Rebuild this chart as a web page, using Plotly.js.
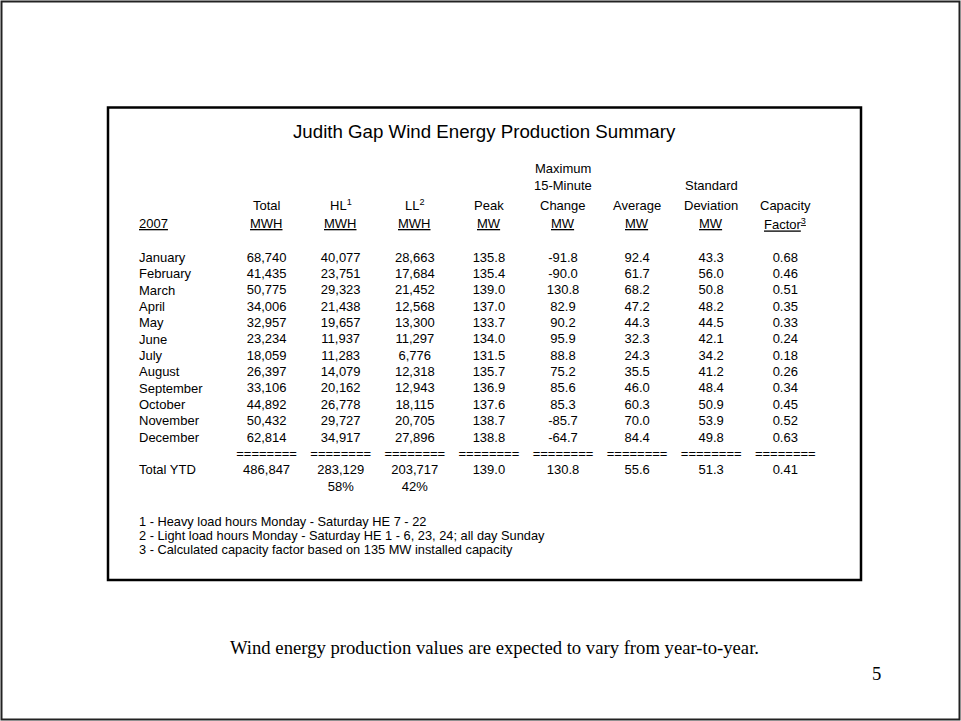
<!DOCTYPE html>
<html>
<head>
<meta charset="utf-8">
<script src="https://cdn.plot.ly/plotly-3.0.1.min.js"></script>
<style>html,body{margin:0;padding:0;background:#fff;}#chart{width:961px;height:721px;}</style>
</head>
<body>
<div id="chart"></div>
<script>
// ---------- data ----------
const titleText = 'Judith Gap Wind Energy Production Summary';
const yearLabel = '2007';
const months = ['January','February','March','April','May','June','July','August','September','October','November','December'];
const columns = ['Total','HL','LL','Peak','Change','Average','StdDev','CF'];
const headerLine1 = ['', '', '', '', 'Maximum', '', '', ''];
const headerLine2 = ['', '', '', '', '15-Minute', '', 'Standard', ''];
const headerLine3 = ['Total', 'HL<sup>1</sup>', 'LL<sup>2</sup>', 'Peak', 'Change', 'Average', 'Deviation', 'Capacity'];
const headerUnits = ['MWH', 'MWH', 'MWH', 'MW', 'MW', 'MW', 'MW', 'Factor<sup>3</sup>'];

const totalMWH = [68740,41435,50775,34006,32957,23234,18059,26397,33106,44892,50432,62814];
const hlMWH    = [40077,23751,29323,21438,19657,11937,11283,14079,20162,26778,29727,34917];
const llMWH    = [28663,17684,21452,12568,13300,11297,6776,12318,12943,18115,20705,27896];
const peakMW   = [135.8,135.4,139.0,137.0,133.7,134.0,131.5,135.7,136.9,137.6,138.7,138.8];
const maxChangeMW = [-91.8,-90.0,130.8,82.9,90.2,95.9,88.8,75.2,85.6,85.3,-85.7,-64.7];
const averageMW = [92.4,61.7,68.2,47.2,44.3,32.3,24.3,35.5,46.0,60.3,70.0,84.4];
const stdDevMW  = [43.3,56.0,50.8,48.2,44.5,42.1,34.2,41.2,48.4,50.9,53.9,49.8];
const capacityFactor = [0.68,0.46,0.51,0.35,0.33,0.24,0.18,0.26,0.34,0.45,0.52,0.63];

const totalRowLabel = 'Total YTD';
const ytdValues = [486847, 283129, 203717, 139.0, 130.8, 55.6, 51.3, 0.41];
const ytdShares = ['', '58%', '42%', '', '', '', '', ''];
const separator = '========';

const footnotes = [
  '1 - Heavy load hours Monday - Saturday HE 7 - 22',
  '2 - Light load hours Monday - Saturday HE 1 - 6, 23, 24; all day Sunday',
  '3 - Calculated capacity factor based on 135 MW installed capacity'
];
const bottomText = 'Wind energy production values are expected to vary from year-to-year.';
const pageNumber = '5';

// ---------- build ----------
const W = 961, H = 721;
const SANS = 'Liberation Sans, Arial, sans-serif';
const SERIF = 'Liberation Serif, Times New Roman, serif';
const decimals = [0,0,0,1,1,1,1,2];
function fmt(v, d) {
  if (d === 0) return v.toLocaleString('en-US');
  return v.toFixed(d);
}
const series = [totalMWH, hlMWH, llMWH, peakMW, maxChangeMW, averageMW, stdDevMW, capacityFactor];
const rowKeys = months.concat(['sep', 'ytd', 'share']);

const traces = [];
columns.forEach((c, ci) => {
  const xs = [], ys = [], ts = [];
  series[ci].forEach((v, ri) => { xs.push(c); ys.push(months[ri]); ts.push(fmt(v, decimals[ci])); });
  xs.push(c); ys.push('sep'); ts.push(separator);
  xs.push(c); ys.push('ytd'); ts.push(fmt(ytdValues[ci], decimals[ci]));
  if (ytdShares[ci]) { xs.push(c); ys.push('share'); ts.push(ytdShares[ci]); }
  traces.push({
    type: 'scatter', mode: 'text', x: xs, y: ys, text: ts,
    textposition: 'middle center',
    textfont: {family: SANS, size: 13, color: '#000'},
    hoverinfo: 'skip', showlegend: false, cliponaxis: false
  });
});

// px -> paper helpers for layout-only items
const px = v => v / W;
const py = v => 1 - v / H;

const annotations = [];
// title
annotations.push({text: titleText, xref: 'paper', yref: 'paper', x: px(484.5), y: py(131),
  xanchor: 'center', yanchor: 'middle', showarrow: false, font: {family: SANS, size: 18.7, color: '#000'}});
// header rows
const headerRowsY = [168, 185, 205, 224];
[headerLine1, headerLine2, headerLine3, headerUnits.map(u => '<u>' + u + '</u>')].forEach((row, hi) => {
  row.forEach((t, ci) => {
    if (!t) return;
    annotations.push({text: t, xref: 'x', yref: 'paper', x: columns[ci], y: py(headerRowsY[hi]),
      xanchor: 'center', yanchor: 'middle', showarrow: false, font: {family: SANS, size: 13, color: '#000'}});
  });
});
annotations.push({text: '<u>' + yearLabel + '</u>', xref: 'paper', yref: 'paper', x: px(137), y: py(224),
  xanchor: 'left', yanchor: 'middle', showarrow: false, font: {family: SANS, size: 13, color: '#000'}});
// row labels
months.concat([totalRowLabel]).forEach((m, i) => {
  annotations.push({text: m, xref: 'paper', yref: 'y', x: px(137), y: i < months.length ? m : 'ytd',
    xanchor: 'left', yanchor: 'middle', yshift: 1, showarrow: false, font: {family: SANS, size: 13, color: '#000'}});
});
// footnotes
const footY = [521, 535, 549];
footnotes.forEach((f, i) => {
  annotations.push({text: f, xref: 'paper', yref: 'paper', x: px(138), y: py(footY[i]),
    xanchor: 'left', yanchor: 'middle', borderpad: 0, showarrow: false, font: {family: SANS, size: 12.8, color: '#000'}});
});
annotations.push({text: bottomText, xref: 'paper', yref: 'paper', x: px(494), y: py(647),
  xanchor: 'center', yanchor: 'middle', showarrow: false, font: {family: SERIF, size: 18.67, color: '#000'}});
annotations.push({text: pageNumber, xref: 'paper', yref: 'paper', x: px(876), y: py(673),
  xanchor: 'center', yanchor: 'middle', showarrow: false, font: {family: SERIF, size: 18.67, color: '#000'}});

const colStep = 74.1, col0 = 266.6;
const rowStep = 16.36, row0 = 258.3;
const layout = {
  width: W, height: H,
  margin: {l: 0, r: 0, t: 0, b: 0, pad: 0},
  paper_bgcolor: '#fff', plot_bgcolor: '#fff',
  xaxis: {type: 'category', categoryarray: columns, categoryorder: 'array',
    range: [-col0 / colStep, (W - col0) / colStep], visible: false, fixedrange: true},
  yaxis: {type: 'category', categoryarray: rowKeys, categoryorder: 'array',
    range: [(H - row0) / rowStep, -row0 / rowStep], visible: false, fixedrange: true},
  shapes: [
    {type: 'rect', xref: 'paper', yref: 'paper', x0: px(1.5), x1: px(959.5), y0: py(1.5), y1: py(719.5),
      line: {color: '#222', width: 2}},
    {type: 'rect', xref: 'paper', yref: 'paper', x0: px(108), x1: px(861), y0: py(107.5), y1: py(580),
      line: {color: '#000', width: 2.5}}
  ],
  annotations: annotations,
  showlegend: false
};

Plotly.newPlot('chart', traces, layout, {staticPlot: true, displayModeBar: false});
</script>
</body>
</html>
